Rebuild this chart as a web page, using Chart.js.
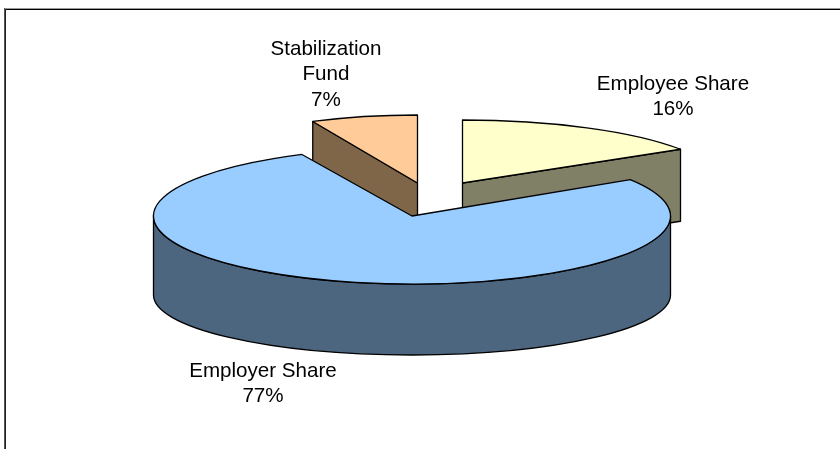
<!DOCTYPE html>
<html><head><meta charset="utf-8">
<style>html,body{margin:0;padding:0;background:#fff}canvas{display:block}</style>
<script src="https://cdn.jsdelivr.net/npm/chart.js@4"></script>
</head><body><canvas id="c" width="840" height="449"></canvas>
<script>
const categories = ['Employee Share', 'Employer Share', 'Stabilization Fund'];
const shares = [16, 77, 7];
const labelLines = [['Employee Share'], ['Employer Share'], ['Stabilization', 'Fund']];
const topColors = ['#FFFFCC', '#99CCFF', '#FFCC99'];
const sideColors = ['#808066', '#4D6680', '#806649'];

// drawing geometry of the tilted, exploded slices (not data)
const tilt = [
  {cx: 462.5, cy: 183, rx: 218 / 0.8443, ry: 63, face: 'end'},
  {cx: 412, cy: 216, rx: 258.5, ry: 68, face: null},
  {cx: 417.5, cy: 183, rx: 246, ry: 68, face: 'start'}
];
const faceDepth = 72, rimDrop = 79, rimBottomRy = 60;
const labelPos = [{x: 673, y: 84}, {x: 263, y: 371}, {x: 326, y: 49}];
const labelLeading = 25.7;
const paintOrder = [0, 2, 1];

const pie3d = {
  id: 'pie3d',
  beforeDatasetsDraw(chart) {
    const ctx = chart.ctx, arcs = chart.getDatasetMeta(0).data;
    ctx.save();
    ctx.lineWidth = 1.3; ctx.strokeStyle = '#000'; ctx.lineJoin = 'round';
    for (const i of paintOrder) {
      const a = arcs[i], g = tilt[i];
      const s = a.startAngle, e = a.endAngle;
      ctx.fillStyle = sideColors[i];
      if (g.face) {
        const t = g.face === 'end' ? e : s;
        const px = g.cx + g.rx * Math.cos(t), py = g.cy + g.ry * Math.sin(t);
        ctx.beginPath();
        ctx.moveTo(g.cx, g.cy); ctx.lineTo(px, py);
        ctx.lineTo(px, py + faceDepth); ctx.lineTo(g.cx, g.cy + faceDepth);
        ctx.closePath(); ctx.fill(); ctx.stroke();
      }
      const lo = Math.max(s, 0), hi = Math.min(e, Math.PI);
      if (lo < hi) {
        ctx.beginPath();
        ctx.ellipse(g.cx, g.cy, g.rx, g.ry, 0, lo, hi);
        ctx.ellipse(g.cx, g.cy + rimDrop, g.rx, rimBottomRy, 0, hi, lo, true);
        ctx.closePath(); ctx.fill(); ctx.stroke();
      }
      ctx.save();
      ctx.translate(g.cx, g.cy);
      ctx.scale(g.rx / a.outerRadius, g.ry / a.outerRadius);
      ctx.translate(-a.x, -a.y);
      a.draw(ctx);
      ctx.restore();
      ctx.beginPath();
      ctx.moveTo(g.cx, g.cy);
      ctx.ellipse(g.cx, g.cy, g.rx, g.ry, 0, s, e);
      ctx.closePath(); ctx.stroke();
    }
    ctx.restore();
    return false;
  },
  afterDraw(chart) {
    const ctx = chart.ctx;
    ctx.save();
    ctx.fillStyle = '#000';
    ctx.font = '20.6px "Liberation Sans", Arial, sans-serif';
    ctx.textAlign = 'center'; ctx.textBaseline = 'middle';
    labelLines.forEach((lines, i) => {
      const all = lines.concat(shares[i] + '%');
      all.forEach((t, k) => ctx.fillText(t, labelPos[i].x, labelPos[i].y + k * labelLeading));
    });
    ctx.fillStyle = '#999';
    ctx.fillRect(4, 8, 836, 1);
    ctx.fillStyle = '#555';
    ctx.fillRect(4, 8, 1, 441);
    ctx.fillStyle = '#000';
    ctx.fillRect(5, 9, 835, 1);
    ctx.fillStyle = '#222';
    ctx.fillRect(5, 9, 1, 440);
    ctx.restore();
  }
};

new Chart(document.getElementById('c'), {
  type: 'pie',
  data: {labels: categories, datasets: [{data: shares, backgroundColor: topColors, borderWidth: 0, radius: 258}]},
  plugins: [pie3d],
  options: {
    responsive: false, animation: false,
    plugins: {legend: {display: false}, tooltip: {enabled: false}, title: {display: false}}
  }
});
</script></body></html>
